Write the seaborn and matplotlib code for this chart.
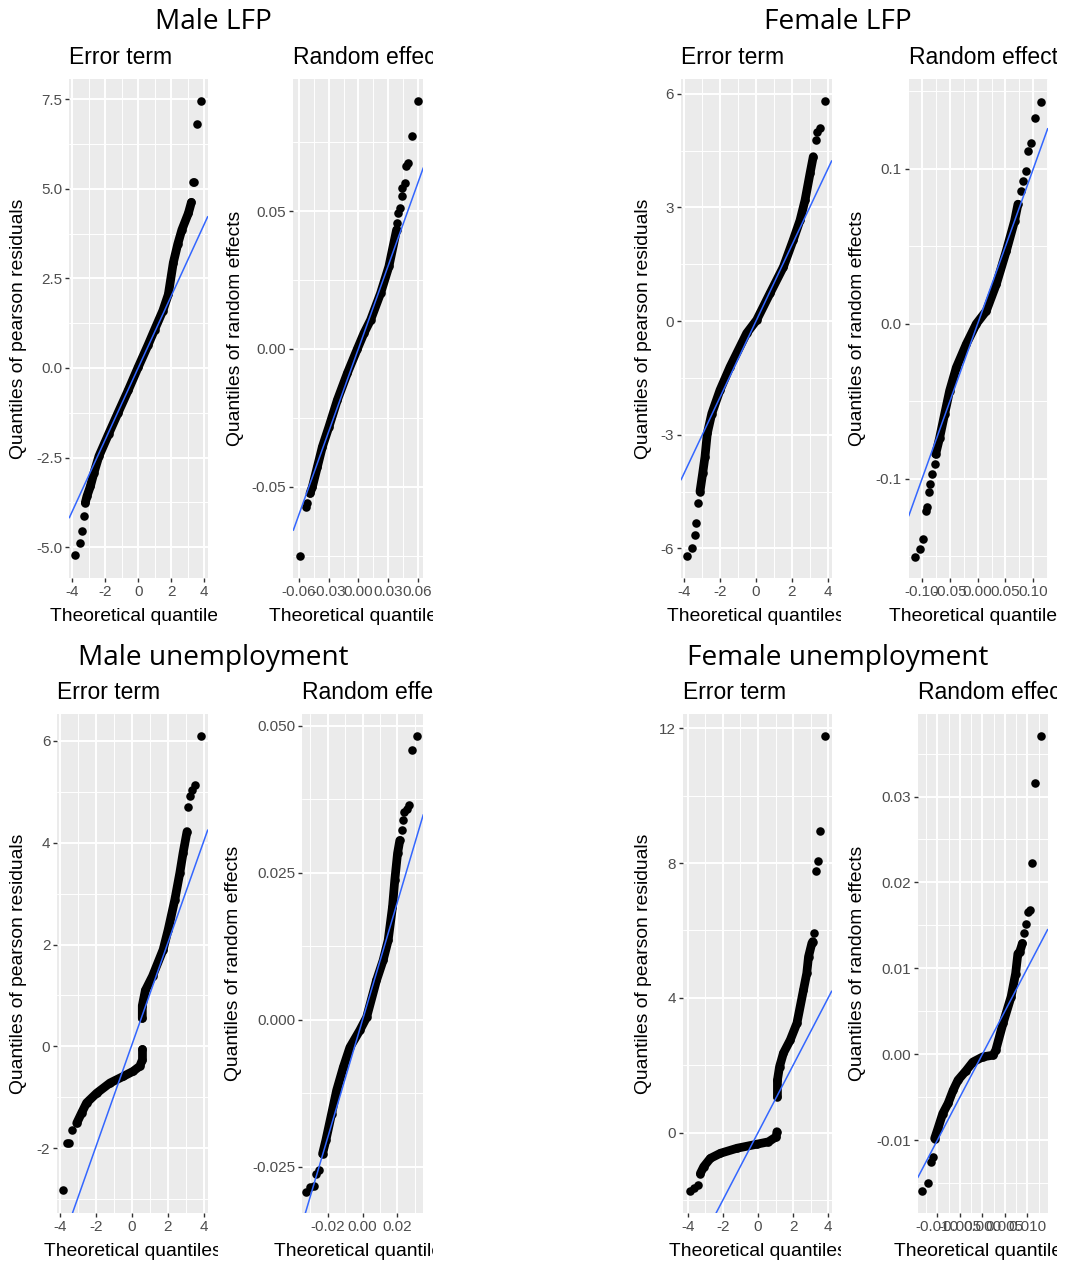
import matplotlib
matplotlib.use("Agg")
import matplotlib.pyplot as plt
import seaborn as sns
from matplotlib.ticker import MultipleLocator, AutoMinorLocator, FuncFormatter
from matplotlib.transforms import Bbox, TransformedBbox

# ---------------- values ----------------
# body = dense run of points (drawn as a thick band), tail = the lone points
# qq line is (intercept, slope)

# Male LFP - error term
ml_err_x = [-3.21, -3.11, -2.90, -2.68, -2.38, -1.80, -1.22, -0.60, 0.00, 0.60, 1.00, 1.50, 1.83, 2.13, 2.40, 2.65, 3.05, 3.23]
ml_err_y = [-3.76, -3.58, -3.30, -2.92, -2.46, -1.85, -1.25, -0.62, 0.02, 0.64, 1.07, 1.60, 2.05, 2.93, 3.45, 3.85, 4.32, 4.62]
ml_err_tail_x = [-3.84, -3.55, -3.41, -3.31, 3.35, 3.40, 3.58, 3.84]
ml_err_tail_y = [-5.23, -4.87, -4.55, -4.13, 5.18, 5.20, 6.81, 7.44]
ml_err_line = (0.0, 1.0)

# Male LFP - random effects
ml_re_x = [-0.0489, -0.0465, -0.0414, -0.0364, -0.0297, -0.0212, -0.0111, -0.0010, 0.0057, 0.0124, 0.0225, 0.0309, 0.0387]
ml_re_y = [-0.0524, -0.0500, -0.0427, -0.0355, -0.0282, -0.0185, -0.0088, 0.0000, 0.0057, 0.0105, 0.0202, 0.0299, 0.0432]
ml_re_tail_x = [-0.0593, -0.0532, -0.0515, 0.0394, 0.0404, 0.0417, 0.0437, 0.0444, 0.0468, 0.0478, 0.0501, 0.0545, 0.0602]
ml_re_tail_y = [-0.0752, -0.0573, -0.0560, 0.0456, 0.0493, 0.0511, 0.0553, 0.0583, 0.0602, 0.0662, 0.0674, 0.0773, 0.0900]
ml_re_line = (0.0, 1.0)

# Female LFP - error term
fl_err_x = [-3.13, -2.98, -2.85, -2.72, -2.47, -2.01, -1.45, -0.52, 0.04, 0.78, 1.53, 2.08, 2.46, 2.74, 3.02, 3.20]
fl_err_y = [-4.50, -4.02, -3.58, -2.96, -2.44, -1.82, -1.21, -0.32, 0.03, 0.73, 1.43, 2.14, 2.66, 3.19, 3.90, 4.34]
fl_err_tail_x = [-3.87, -3.59, -3.41, -3.35, -3.22, 3.33, 3.43, 3.58, 3.85]
fl_err_tail_y = [-6.20, -6.00, -5.65, -5.34, -4.81, 4.78, 5.00, 5.10, 5.80]
fl_err_line = (0.0, 1.0)

# Female LFP - random effects
fl_re_x = [-0.0755, -0.0683, -0.0594, -0.0504, -0.0384, -0.0204, -0.0024, 0.0156, 0.0336, 0.0516, 0.0665, 0.0725]
fl_re_y = [-0.0841, -0.0734, -0.0583, -0.0432, -0.0282, -0.0131, 0.0000, 0.0084, 0.0256, 0.0471, 0.0665, 0.0772]
fl_re_tail_x = [-0.1133, -0.1031, -0.0983, -0.0935, -0.0911, -0.0876, -0.0851, -0.0815, -0.0773,
                0.0786, 0.0815, 0.0863, 0.0905, 0.0965, 0.1025, 0.1145]
fl_re_tail_y = [-0.1503, -0.1454, -0.1389, -0.1206, -0.1185, -0.1088, -0.1034, -0.0970, -0.0905,
                0.0858, 0.0923, 0.0987, 0.1116, 0.1170, 0.1331, 0.1432]
fl_re_line = (0.0, 1.0)

# Male unemployment - error term (two runs with a gap between them)
mu_err_lo_x = [-3.07, -2.80, -2.52, -1.96, -1.22, -0.48, 0.07, 0.44, 0.59, 0.59]
mu_err_lo_y = [-1.51, -1.31, -1.11, -0.92, -0.72, -0.59, -0.49, -0.39, -0.26, -0.06]
mu_err_hi_x = [0.58, 0.58, 0.75, 1.15, 1.74, 2.02, 2.39, 2.67, 2.85, 3.07]
mu_err_hi_y = [0.55, 0.80, 1.10, 1.38, 1.90, 2.29, 2.88, 3.41, 3.80, 4.22]
mu_err_tail_x = [-3.85, -3.63, -3.48, -3.35, 3.13, 3.22, 3.37, 3.50, 3.83]
mu_err_tail_y = [-2.83, -1.90, -1.90, -1.64, 4.71, 4.91, 5.04, 5.14, 6.09]
mu_err_line = (0.03, 1.0)

# Male unemployment - random effects
mu_re_x = [-0.0230, -0.0211, -0.0178, -0.0149, -0.0111, -0.0073, -0.0016, 0.0023, 0.0080, 0.0118, 0.0147, 0.0172, 0.0185, 0.0201, 0.0214]
mu_re_y = [-0.0228, -0.0205, -0.0160, -0.0120, -0.0081, -0.0047, -0.0018, 0.0004, 0.0067, 0.0101, 0.0135, 0.0192, 0.0237, 0.0283, 0.0305]
mu_re_tail_x = [-0.0325, -0.0303, -0.0280, -0.0268, -0.0249, 0.0224, 0.0230, 0.0237, 0.0253, 0.0268, 0.0285, 0.0313]
mu_re_tail_y = [-0.0292, -0.0285, -0.0282, -0.0262, -0.0255, 0.0322, 0.0339, 0.0353, 0.0359, 0.0366, 0.0459, 0.0482]
mu_re_line = (0.0, 1.0)

# Female unemployment - error term (two runs with a gap between them)
fu_err_lo_x = [-3.28, -3.09, -2.71, -2.14, -1.19, -0.06, 0.60, 1.04, 1.08]
fu_err_lo_y = [-1.21, -1.01, -0.76, -0.61, -0.46, -0.34, -0.27, -0.12, 0.03]
fu_err_hi_x = [1.11, 1.11, 1.23, 1.45, 1.84, 2.22, 2.59, 2.78, 2.88, 3.07, 3.12]
fu_err_hi_y = [1.07, 1.56, 1.96, 2.36, 2.75, 3.25, 4.23, 4.73, 5.22, 5.62, 5.67]
fu_err_tail_x = [-3.89, -3.66, -3.43, 3.22, 3.31, 3.41, 3.54, 3.82]
fu_err_tail_y = [-1.72, -1.65, -1.55, 5.92, 7.77, 8.06, 8.96, 11.77]
fu_err_line = (0.0, 1.0)

# Female unemployment - random effects
fu_re_x = [-0.0106, -0.0099, -0.0088, -0.0076, -0.0065, -0.0054, -0.0036, -0.0021, 0.0001, 0.0024, 0.0030, 0.0046, 0.0064, 0.0074, 0.0079, 0.0083, 0.0089]
fu_re_y = [-0.0098, -0.0087, -0.0069, -0.0057, -0.0042, -0.0030, -0.0019, -0.0009, -0.0003, -0.0001, 0.0005, 0.0036, 0.0067, 0.0094, 0.0117, 0.0119, 0.0129]
fu_re_tail_x = [-0.0133, -0.0121, -0.0113, -0.0110, 0.0092, 0.0096, 0.0101, 0.0107, 0.0111, 0.0118, 0.0131]
fu_re_tail_y = [-0.0159, -0.0150, -0.0125, -0.0120, 0.0141, 0.0152, 0.0166, 0.0168, 0.0223, 0.0316, 0.0370]
fu_re_line = (0.0, 1.0)

group_titles = ["Male LFP", "Female LFP", "Male unemployment", "Female unemployment"]

# ---------------- style ----------------
W, H = 1066, 1264
sns.set_style("darkgrid", {"axes.facecolor": "#EBEBEB", "grid.color": "white"})
plt.rcParams['font.family'] = ['Liberation Sans', 'DejaVu Sans']
plt.rcParams['axes.unicode_minus'] = False

fig = plt.figure(figsize=(W / 100, H / 100), dpi=100)
fig.patch.set_facecolor("white")


def fx(px):
    return px / W


def fy(py):
    return 1 - py / H


def clip_text(t, right_px):
    # the original picture was cut off, so cut the text at the same place
    bb = TransformedBbox(Bbox.from_extents(0, 0, fx(right_px), 1), fig.transFigure)
    t.set_clip_box(bb)
    t.set_clip_on(True)


def fmt(f):
    return FuncFormatter(lambda v, p: f % (round(v, 6) + 0.0))


def panel(box, xlim, ylim, steps, fmts, body, tail, line, title, ylab, ylab_x,
          xlab_base, clip_x):
    x0, x1, y0, y1 = box
    ax = fig.add_axes([fx(x0), fy(y1), fx(x1) - fx(x0), fy(y0) - fy(y1)])
    ax.set_facecolor("#EBEBEB")
    for s in ax.spines.values():
        s.set_visible(False)

    # points
    for bx, by in body:
        sns.lineplot(x=bx, y=by, ax=ax, sort=False, estimator=None, color="black",
                     linewidth=6.3, solid_capstyle="round", solid_joinstyle="round")
        sns.scatterplot(x=bx, y=by, ax=ax, color="black", s=38, linewidth=0)
    sns.scatterplot(x=tail[0], y=tail[1], ax=ax, color="black", s=38, linewidth=0)
    # qq line
    ax.axline((0, line[0]), slope=line[1], color="#3366FF", lw=1.1, zorder=5)

    ax.set_xlim(xlim)
    ax.set_ylim(ylim)
    ax.xaxis.set_major_locator(MultipleLocator(steps[0]))
    ax.yaxis.set_major_locator(MultipleLocator(steps[1]))
    ax.xaxis.set_minor_locator(AutoMinorLocator(2))
    ax.yaxis.set_minor_locator(AutoMinorLocator(2))
    ax.xaxis.set_major_formatter(fmt(fmts[0]))
    ax.yaxis.set_major_formatter(fmt(fmts[1]))
    ax.grid(which="major", color="white", lw=1.4)
    ax.grid(which="minor", color="white", lw=0.7)
    ax.set_axisbelow(True)
    ax.tick_params(which="major", length=3, width=1, color="#333333",
                   labelcolor="#4D4D4D", labelsize=11, pad=2,
                   bottom=True, left=True)
    ax.tick_params(which="minor", length=0)
    ax.set_xlabel("")
    ax.set_ylabel("")

    t = ax.set_title(title, loc="left", fontsize=16.5, pad=10.7, color="black")
    clip_text(t, clip_x)
    fig.text(fx(ylab_x), fy((y0 + y1) / 2), ylab, rotation=90, ha="center",
             va="center", fontsize=13.9, color="black")
    t = fig.text(fx((x0 + x1) / 2), fy(xlab_base), "Theoretical quantiles",
                 ha="center", va="baseline", fontsize=13.9, color="black")
    clip_text(t, clip_x)
    return ax


err_lab = "Quantiles of pearson residuals"
re_lab = "Quantiles of random effects"

# top row
panel((69.3, 207.7, 79, 578), (-4.18, 4.22), (-5.86, 8.06), (2, 2.5), ("%d", "%.1f"),
      [(ml_err_x, ml_err_y)], (ml_err_tail_x, ml_err_tail_y), ml_err_line,
      "Error term", err_lab, 19, 621, 217)
panel((293.3, 423.3, 79, 578), (-0.0658, 0.0657), (-0.0831, 0.0979), (0.03, 0.05), ("%.2f", "%.2f"),
      [(ml_re_x, ml_re_y)], (ml_re_tail_x, ml_re_tail_y), ml_re_line,
      "Random effects", re_lab, 235, 621, 433)
panel((681, 831.7, 79, 578), (-4.19, 4.23), (-6.78, 6.39), (2, 3), ("%d", "%d"),
      [(fl_err_x, fl_err_y)], (fl_err_tail_x, fl_err_tail_y), fl_err_line,
      "Error term", err_lab, 643, 621, 841)
panel((908.7, 1047.7, 79, 578), (-0.124, 0.126), (-0.164, 0.158), (0.05, 0.1), ("%.2f", "%.1f"),
      [(fl_re_x, fl_re_y)], (fl_re_tail_x, fl_re_tail_y), fl_re_line,
      "Random effects", re_lab, 858, 621, 1057)

# bottom row
panel((57.3, 207.7, 714, 1213.3), (-4.15, 4.22), (-3.28, 6.53), (2, 2), ("%d", "%d"),
      [(mu_err_lo_x, mu_err_lo_y), (mu_err_hi_x, mu_err_hi_y)], (mu_err_tail_x, mu_err_tail_y),
      mu_err_line, "Error term", err_lab, 19, 1256, 217.5)
panel((302, 423.3, 714, 1213.3), (-0.0348, 0.0349), (-0.0329, 0.052), (0.02, 0.025), ("%.2f", "%.3f"),
      [(mu_re_x, mu_re_y)], (mu_re_tail_x, mu_re_tail_y), mu_re_line,
      "Random effects", re_lab, 234, 1256, 433)
panel((683.3, 831.7, 714, 1213.3), (-4.25, 4.2), (-2.39, 12.42), (2, 4), ("%d", "%d"),
      [(fu_err_lo_x, fu_err_lo_y), (fu_err_hi_x, fu_err_hi_y)], (fu_err_tail_x, fu_err_tail_y),
      fu_err_line, "Error term", err_lab, 643, 1256, 841)
panel((917.7, 1047.7, 714, 1213.3), (-0.01436, 0.01453), (-0.0185, 0.0396), (0.005, 0.01), ("%.3f", "%.2f"),
      [(fu_re_x, fu_re_y)], (fu_re_tail_x, fu_re_tail_y), fu_re_line,
      "Random effects", re_lab, 858, 1256, 1057)

# group headings
for name, cx, base in zip(group_titles, [213.5, 837.5, 213.7, 837.7], [29.3, 29.3, 665, 665]):
    fig.text(fx(cx), fy(base), name, ha="center", va="baseline", fontsize=20.2,
             family=["Open Sans", "DejaVu Sans"], color="black")

fig.savefig("out.png", dpi=100, facecolor="white")
